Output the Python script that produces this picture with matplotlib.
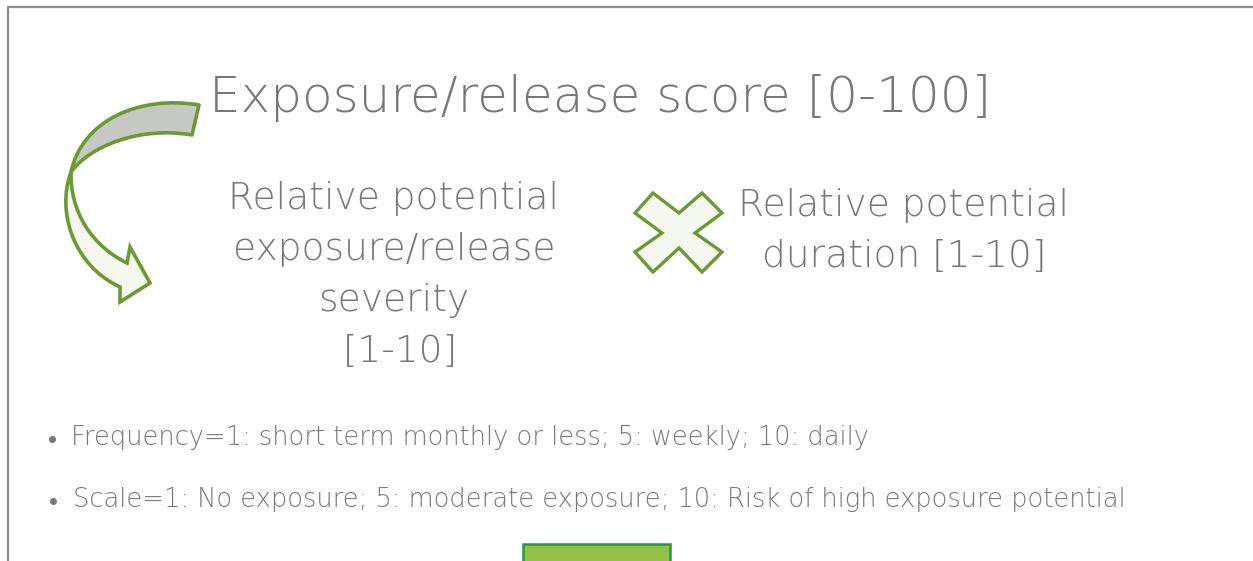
import matplotlib
matplotlib.use("Agg")
import matplotlib.pyplot as plt
from matplotlib.path import Path
from matplotlib.patches import PathPatch, Polygon, Rectangle

W, H = 1253, 561

title = "Exposure/release score [0-100]"
severity_lines = ["Relative potential", "exposure/release", "severity", " [1-10]"]
duration_lines = ["Relative potential", "duration [1-10]"]
bullets = ["Frequency=1: short term monthly or less; 5: weekly; 10: daily",
           "Scale=1: No exposure; 5: moderate exposure; 10: Risk of high exposure potential"]

GREEN = "#6b9a35"
TEXT = "#777777"
plt.rcParams['font.family'] = ['DejaVu Sans']

fig = plt.figure(figsize=(W / 100, H / 100), dpi=100)
ax = fig.add_axes([0, 0, 1, 1])
ax.set_xlim(0, W)
ax.set_ylim(H, 0)
ax.axis("off")

# slide frame
ax.plot([7.5, 7.5, W], [H, 6.5, 6.5], color="#8c8c8c", lw=1.6, solid_capstyle="butt")

# curved arrow: grey back part + light front part with head
back = Path([(199, 105), (140, 95), (82, 120), (71, 172),
             (90, 146), (140, 126), (192, 135), (199, 105)],
            [Path.MOVETO, Path.CURVE4, Path.CURVE4, Path.CURVE4,
             Path.CURVE4, Path.CURVE4, Path.CURVE4, Path.CLOSEPOLY])
ax.add_patch(PathPatch(back, facecolor="#c6c9c3", edgecolor=GREEN, lw=2.6, joinstyle="round"))
front = Path([(71, 172), (56, 212), (74, 266), (120, 287),
              (120, 302), (150, 283), (130, 247), (127, 263),
              (92, 246), (70, 212), (71, 172)],
             [Path.MOVETO, Path.CURVE4, Path.CURVE4, Path.CURVE4,
              Path.LINETO, Path.LINETO, Path.LINETO, Path.LINETO,
              Path.CURVE4, Path.CURVE4, Path.CURVE4])
ax.add_patch(PathPatch(front, facecolor="#f4f8ee", edgecolor=GREEN, lw=2.6, joinstyle="miter"))

# multiply sign
cross = [(653, 193), (679, 213), (702, 193), (722, 213), (695, 233), (722, 252),
         (702, 272), (679, 248), (653, 272), (635, 252), (662, 233), (635, 213)]
ax.add_patch(Polygon(cross, closed=True, facecolor="#f4f8ee", edgecolor=GREEN, lw=2.4))

# green box cut off at the bottom
ax.add_patch(Rectangle((523, 544), 147, 30, facecolor="#93c147", edgecolor="#1f9a45", lw=1.8))

kw = dict(color=TEXT, va="baseline", fontweight="light")
ax.text(600, 112, title, fontsize=36, ha="center", **kw)
for i, line in enumerate(severity_lines):
    ax.text(394, 209 + 51 * i, line, fontsize=27, ha="center", **kw)
for i, line in enumerate(duration_lines):
    ax.text(904, 216 + 51 * i, line, fontsize=27, ha="center", **kw)
for i, line in enumerate(bullets):
    y = 445 + 62 * i
    ax.plot(52 + i, y - 6, "o", color=TEXT, ms=4)
    ax.text(71 + 2 * i, y, line, fontsize=18.5, ha="left", **kw)

fig.savefig("out.png", dpi=100)
